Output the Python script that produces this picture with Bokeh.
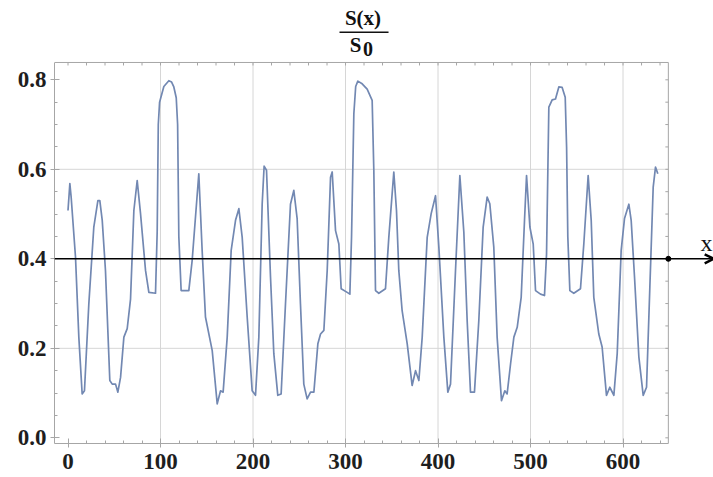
import numpy as np
from bokeh.plotting import figure
from bokeh.models import Range1d, FixedTicker, Label, Arrow, OpenHead, ColumnDataSource
from bokeh.embed import file_html
from bokeh.resources import INLINE

# ---- data ----
x_vals = [0, 2, 3.4, 8.1, 11.7, 15.3, 17.8, 22.5, 27.9, 32.3, 34.4, 37, 40.5, 45.2, 47.8,
          51.4, 53.9, 56.8, 60.4, 64, 67.6, 71.2, 74.8, 78.4, 83.8, 87.4, 94.6, 96.4, 97.6,
          99, 103.6, 109, 112, 114.4, 117, 118.5, 119.8, 122.3, 130.6, 134.2, 141.4, 145,
          148.6, 155.9, 161.3, 164.9, 167.7, 172.1, 176.4, 181.1, 184.7, 188.3, 193.7, 199.1,
          202.7, 206.3, 209.9, 212, 214.6, 218.9, 222.5, 226.8, 230.4, 235.1, 240.5, 244.1,
          247.7, 251.3, 254.9, 258.5, 262.2, 265.8, 270.1, 273, 276.6, 280.2, 283.8, 285.6,
          289.2, 292.8, 295.3, 301.8, 304.7, 306.5, 309, 311, 313.3, 318, 323.4, 328.8,
          330.6, 332.4, 336, 343.2, 346.8, 352.2, 355.1, 357.6, 361.2, 366.7, 372, 375.7,
          379.3, 382.9, 388.3, 392.6, 397.3, 400.9, 406.3, 410.6, 413.5, 418.9, 423.6, 427.9,
          431.5, 435.1, 439.4, 444.1, 448.8, 453.1, 456, 460.3, 463.9, 468.6, 472.2, 474.7,
          478.4, 482, 485.6, 489.9, 493.5, 495.7, 499.3, 502.9, 505.4, 510.8, 515.1, 517.3,
          519.8, 523.4, 527, 530.6, 534.2, 537.5, 539, 540.3, 542.5, 546.8, 554, 557.6,
          562.3, 565.6, 568.4, 573.8, 577.4, 582.1, 585.7, 590.1, 593.7, 598, 601.6, 606.3,
          608.8, 612.4, 617.1, 621.8, 625.4, 629, 632.6, 635.1, 637.6]
s_vals = [0.508, 0.568, 0.538, 0.404, 0.225, 0.098, 0.105, 0.299, 0.471, 0.530, 0.530, 0.486,
          0.374, 0.128, 0.120, 0.120, 0.102, 0.135, 0.225, 0.244, 0.310, 0.508, 0.575, 0.501,
          0.374, 0.325, 0.323, 0.46, 0.70, 0.75, 0.785, 0.798, 0.795, 0.784, 0.76, 0.70,
          0.45, 0.329, 0.329, 0.396, 0.590, 0.419, 0.270, 0.195, 0.076, 0.105, 0.102, 0.225,
          0.419, 0.486, 0.512, 0.448, 0.270, 0.105, 0.095, 0.225, 0.522, 0.607, 0.598, 0.36,
          0.188, 0.095, 0.098, 0.299, 0.522, 0.553, 0.49, 0.299, 0.120, 0.087, 0.102, 0.102,
          0.21, 0.232, 0.24, 0.374, 0.582, 0.594, 0.463, 0.433, 0.333, 0.325, 0.321, 0.448,
          0.724, 0.785, 0.797, 0.791, 0.779, 0.754, 0.598, 0.329, 0.323, 0.333, 0.448, 0.594,
          0.508, 0.374, 0.284, 0.21, 0.117, 0.150, 0.128, 0.225, 0.448, 0.501, 0.541, 0.426,
          0.225, 0.102, 0.120, 0.374, 0.586, 0.46, 0.262, 0.102, 0.102, 0.262, 0.471, 0.538,
          0.523, 0.426, 0.225, 0.083, 0.105, 0.098, 0.165, 0.225, 0.247, 0.314, 0.486, 0.586,
          0.471, 0.433, 0.329, 0.321, 0.318, 0.410, 0.739, 0.755, 0.757, 0.784, 0.783, 0.761,
          0.65, 0.45, 0.329, 0.323, 0.333, 0.433, 0.586, 0.486, 0.314, 0.232, 0.203, 0.095,
          0.113, 0.095, 0.188, 0.419, 0.490, 0.522, 0.486, 0.36, 0.181, 0.095, 0.113, 0.337,
          0.560, 0.605, 0.590]

x_ticks = [0, 100, 200, 300, 400, 500, 600]
x_tick_labels = ["0", "100", "200", "300", "400", "500", "600"]
y_ticks = [0.0, 0.2, 0.4, 0.6, 0.8]
y_tick_labels = ["0.0", "0.2", "0.4", "0.6", "0.8"]
x_grid = [100, 200, 300, 400, 500, 600]
y_grid = [0.2, 0.6]
axis_level = 0.4

# plotting box (Mathematica frame) and the full drawing area
box_x = (-14.6, 649.0)
box_y = (-0.0127, 0.8387)
view_x = (-14.6, 697.8)
view_y = (-0.0127, 0.9772)

SERIF = "Liberation Serif"
FRAME = "#a6a6a6"
GRID = "#d6d6d6"
LINE = "#7288b2"
INK = "#111111"

p = figure(width=713, height=477, output_backend="svg", toolbar_location=None,
           x_range=Range1d(*view_x), y_range=Range1d(*view_y),
           min_border_left=54, min_border_right=0, min_border_top=0, min_border_bottom=34,
           background_fill_color="white", border_fill_color="white")
p.outline_line_color = None
p.xgrid.visible = False
p.ygrid.visible = False

x_minor = [float(v) for v in np.arange(-0, 650, 20)]
y_minor = [float(v) for v in np.round(np.arange(0, 0.84, 0.05), 3)]
xt = FixedTicker(ticks=x_ticks, minor_ticks=x_minor)
yt = FixedTicker(ticks=y_ticks, minor_ticks=y_minor)

for ax, ticker, labels, bnd in ((p.xaxis[0], xt, x_tick_labels, box_x),
                                (p.yaxis[0], yt, y_tick_labels, box_y)):
    ax.ticker = ticker
    ax.bounds = bnd
    ax.major_label_overrides = {t: l for t, l in zip(ticker.ticks, labels)}
    ax.axis_line_color = FRAME
    ax.major_tick_line_color = FRAME
    ax.minor_tick_line_color = FRAME
    ax.major_tick_in = 5
    ax.major_tick_out = 4
    ax.minor_tick_in = 3
    ax.minor_tick_out = 0
    ax.major_label_standoff = 4
    ax.major_label_text_font = SERIF
    ax.major_label_text_font_style = "bold"
    ax.major_label_text_font_size = "23px"
    ax.major_label_text_color = "#1e1e1e"
p.xaxis[0].major_label_standoff = 6

# grid lines inside the box
p.segment(x0=x_grid, y0=[box_y[0]] * len(x_grid), x1=x_grid, y1=[box_y[1]] * len(x_grid),
          line_color=GRID, line_width=1)
p.segment(x0=[box_x[0]] * len(y_grid), y0=y_grid, x1=[box_x[1]] * len(y_grid), y1=y_grid,
          line_color=GRID, line_width=1)

# right and top edges of the box, with small inward ticks
p.segment(x0=[box_x[0], box_x[1]], y0=[box_y[1], box_y[0]],
          x1=[box_x[1], box_x[1]], y1=[box_y[1], box_y[1]], line_color=FRAME, line_width=1)
dy = 3 / 447.5
dx = 3 / 0.925
p.segment(x0=x_minor, y0=[box_y[1]] * len(x_minor), x1=x_minor,
          y1=[box_y[1] - dy] * len(x_minor), line_color=FRAME, line_width=1)
p.segment(x0=[box_x[1]] * len(y_minor), y0=y_minor, x1=[box_x[1] - dx] * len(y_minor),
          y1=y_minor, line_color=FRAME, line_width=1)

src = ColumnDataSource(dict(x=x_vals, s=s_vals))
p.line("x", "s", source=src, line_color=LINE, line_width=1.7, line_join="round")

# horizontal x axis arrow at S = 0.4
p.add_layout(Arrow(end=OpenHead(size=9, line_width=2.5, line_color="black"),
                   x_start=box_x[0], y_start=axis_level, x_end=698, y_end=axis_level,
                   line_color="black", line_width=1.5))
p.scatter([box_x[1]], [axis_level], size=5, color="black")
p.add_layout(Label(x=690.3, y=axis_level, y_offset=16, text="x", text_align="center",
                   text_baseline="alphabetic", text_font=SERIF, text_font_size="24px",
                   text_color=INK))

# title: the fraction S(x) / S0
p.add_layout(Label(x=318.9, y=0.9392, text="S(x)", text_align="center",
                   text_baseline="alphabetic", text_font=SERIF, text_font_style="bold",
                   text_font_size="21px", text_color=INK))
p.add_layout(Arrow(end=None, x_start=293.5, x_end=346.5, y_start=0.9064, y_end=0.9064,
                   line_color=INK, line_width=1.6))
p.add_layout(Label(x=317.3, y=0.8767, text="S", text_align="right",
                   text_baseline="alphabetic", text_font=SERIF, text_font_style="bold",
                   text_font_size="21px", text_color=INK))
p.add_layout(Label(x=319.0, y=0.8690, text="0", text_align="left",
                   text_baseline="alphabetic", text_font=SERIF, text_font_style="bold",
                   text_font_size="20px", text_color=INK))

open("out.html", "w").write(file_html(p, INLINE))
